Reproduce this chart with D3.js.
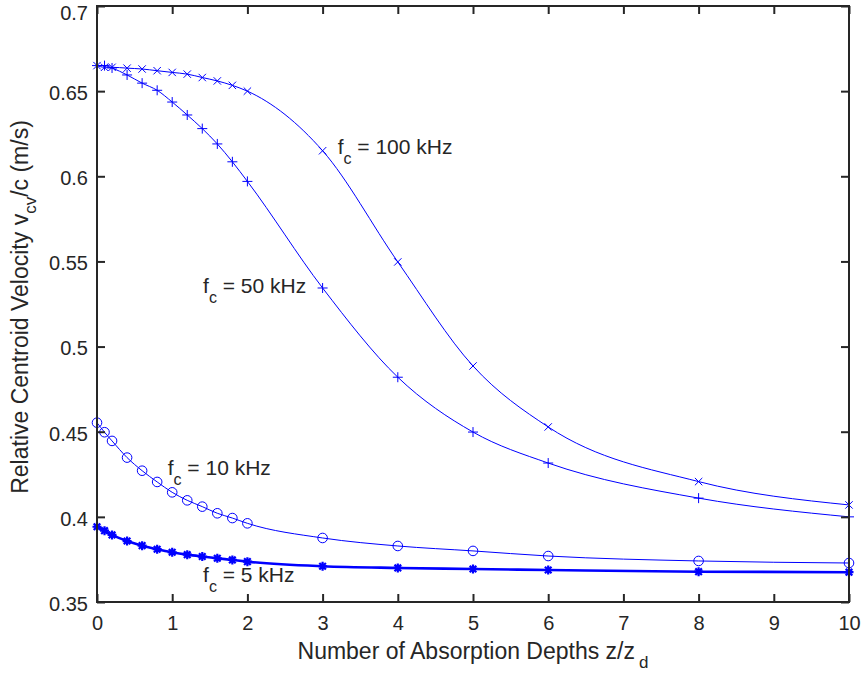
<!DOCTYPE html>
<html>
<head>
<meta charset="utf-8">
<script src="https://cdn.jsdelivr.net/npm/d3@7"></script>
<style>
  body { margin: 0; background: #fff; }
  text { font-family: "Liberation Sans", Arial, Helvetica, sans-serif; fill: #262626; }
</style>
</head>
<body>
<div id="chart"></div>
<script>
// depths where the curves were sampled (z/z_d)
const depths = [0, 0.1, 0.2, 0.4, 0.6, 0.8, 1, 1.2, 1.4, 1.6, 1.8, 2, 3, 4, 5, 6, 8, 10];

// relative centroid velocity for each carrier frequency
const v100k = [0.665, 0.664, 0.664, 0.6635, 0.663, 0.662, 0.661, 0.660, 0.658, 0.656, 0.6534, 0.650, 0.615, 0.5497, 0.4886, 0.4528, 0.4207, 0.407];
const v50k  = [0.665, 0.665, 0.6636, 0.6595, 0.6547, 0.6505, 0.6436, 0.636, 0.628, 0.619, 0.6085, 0.597, 0.5344, 0.482, 0.4498, 0.4316, 0.411, 0.400];
const v10k  = [0.4553, 0.4497, 0.4446, 0.4348, 0.4271, 0.4205, 0.4144, 0.4097, 0.406, 0.4021, 0.3993, 0.3962, 0.3876, 0.3829, 0.380, 0.377, 0.3741, 0.3729];
const v5k   = [0.3942, 0.3919, 0.3894, 0.3858, 0.3831, 0.381, 0.3792, 0.3778, 0.3767, 0.3757, 0.3747, 0.3737, 0.371, 0.370, 0.3694, 0.3688, 0.3678, 0.3675];

const xTicks = [0, 1, 2, 3, 4, 5, 6, 7, 8, 9, 10];
const yTicks = [0.35, 0.4, 0.45, 0.5, 0.55, 0.6, 0.65, 0.7];

// text annotations, placed in data coordinates like matlab text()
const labelText = ["100 kHz", "50 kHz", "10 kHz", "5 kHz"];
const labelX = [3.2, 1.41, 0.94, 1.41];
const labelY = [0.6131, 0.5315, 0.4246, 0.3618];

const width = 864, height = 677;
const blue = "#0000ff";
const axisColor = "#262626";

const svg = d3.select("#chart").append("svg")
  .attr("width", width)
  .attr("height", height);

const x = d3.scaleLinear().domain([0, 10]).range([97, 849]);
const y = d3.scaleLinear().domain([0.35, 0.7]).range([602, 6]);

const x0 = x.range()[0], x1 = x.range()[1];
const y0 = y.range()[0], y1 = y.range()[1];
const tickLen = 8;

// curves
const line = d3.line()
  .x(d => x(d[0]))
  .y(d => y(d[1]))
  .curve(d3.curveMonotoneX);

const series = [
  { vals: v100k, marker: "x", lw: 1 },
  { vals: v50k, marker: "plus", lw: 1 },
  { vals: v10k, marker: "circle", lw: 1 },
  { vals: v5k, marker: "star", lw: 2.6 }
];

series.forEach(s => {
  const pts = depths.map((d, i) => [d, s.vals[i]]);
  svg.append("path")
    .datum(pts)
    .attr("fill", "none")
    .attr("stroke", blue)
    .attr("stroke-width", s.lw)
    .attr("d", line);

  const g = svg.append("g")
    .attr("fill", "none")
    .attr("stroke", blue);

  const m = g.selectAll("g").data(pts).enter().append("g")
    .attr("transform", d => `translate(${x(d[0])},${y(d[1])})`);

  if (s.marker === "x") {
    m.append("path").attr("stroke-width", 1).attr("d", "M-3.7,-3.7L3.7,3.7M-3.7,3.7L3.7,-3.7");
  } else if (s.marker === "plus") {
    m.append("path").attr("stroke-width", 1).attr("d", "M-5,0L5,0M0,-5L0,5");
  } else if (s.marker === "circle") {
    m.append("circle").attr("r", 4.8).attr("stroke-width", 1);
  } else {
    m.append("path").attr("stroke-width", 2.2)
      .attr("d", "M-4.5,0L4.5,0M0,-4.5L0,4.5M-3.3,-3.3L3.3,3.3M-3.3,3.3L3.3,-3.3");
  }
});

// axes box and ticks
svg.append("rect")
  .attr("x", x0).attr("y", y1)
  .attr("width", x1 - x0).attr("height", y0 - y1)
  .attr("fill", "none")
  .attr("stroke", axisColor)
  .attr("stroke-width", 2);

const gxb = svg.append("g").attr("transform", `translate(0,${y0})`)
  .call(d3.axisBottom(x).tickValues(xTicks).tickSize(tickLen).tickFormat(d3.format("d")));
gxb.select(".domain").remove();
gxb.selectAll(".tick line").attr("y2", -tickLen).attr("stroke", axisColor).attr("stroke-width", 2);
gxb.selectAll(".tick text").attr("y", 0).attr("dy", 28).attr("font-size", 20).attr("fill", axisColor);

const gxt = svg.append("g").attr("transform", `translate(0,${y1})`)
  .call(d3.axisTop(x).tickValues(xTicks).tickSize(tickLen).tickFormat(""));
gxt.select(".domain").remove();
gxt.selectAll(".tick line").attr("y2", tickLen).attr("stroke", axisColor).attr("stroke-width", 2);

const gyl = svg.append("g").attr("transform", `translate(${x0},0)`)
  .call(d3.axisLeft(y).tickValues(yTicks).tickSize(tickLen).tickFormat(d3.format("")));
gyl.select(".domain").remove();
gyl.selectAll(".tick line").attr("x2", tickLen).attr("stroke", axisColor).attr("stroke-width", 2);
gyl.selectAll(".tick text").attr("x", -9).attr("dy", "0.42em").attr("font-size", 20).attr("fill", axisColor);
// top label sits a little lower so it stays inside the page
gyl.selectAll(".tick text").filter(d => d === 0.7).attr("dy", "0.68em");

const gyr = svg.append("g").attr("transform", `translate(${x1},0)`)
  .call(d3.axisRight(y).tickValues(yTicks).tickSize(tickLen).tickFormat(""));
gyr.select(".domain").remove();
gyr.selectAll(".tick line").attr("x2", -tickLen).attr("stroke", axisColor).attr("stroke-width", 2);

svg.selectAll(".tick text").attr("font-family", "Liberation Sans, Arial, sans-serif");

// axis labels
const xl = svg.append("text")
  .attr("x", (x0 + x1) / 2).attr("y", 659)
  .attr("text-anchor", "middle")
  .attr("font-size", 23);
xl.append("tspan").text("Number of Absorption Depths z/z");
xl.append("tspan").attr("dx", 4).attr("dy", 9).attr("font-size", 17).text("d");

const yl = svg.append("text")
  .attr("transform", `translate(28,${(y0 + y1) / 2 + 3}) rotate(-90)`)
  .attr("text-anchor", "middle")
  .attr("font-size", 23);
yl.append("tspan").text("Relative Centroid Velocity v");
yl.append("tspan").attr("dy", 8).attr("font-size", 17).text("cv");
yl.append("tspan").attr("dy", -8).text("/c (m/s)");

// annotations f_c = ...
labelText.forEach((t, i) => {
  const tx = svg.append("text")
    .attr("x", x(labelX[i])).attr("y", y(labelY[i]))
    .attr("font-size", 21);
  tx.append("tspan").text("f");
  tx.append("tspan").attr("dy", 10).attr("font-size", 16).text("c");
  tx.append("tspan").attr("dy", -10).text(" = " + t);
});
</script>
</body>
</html>
